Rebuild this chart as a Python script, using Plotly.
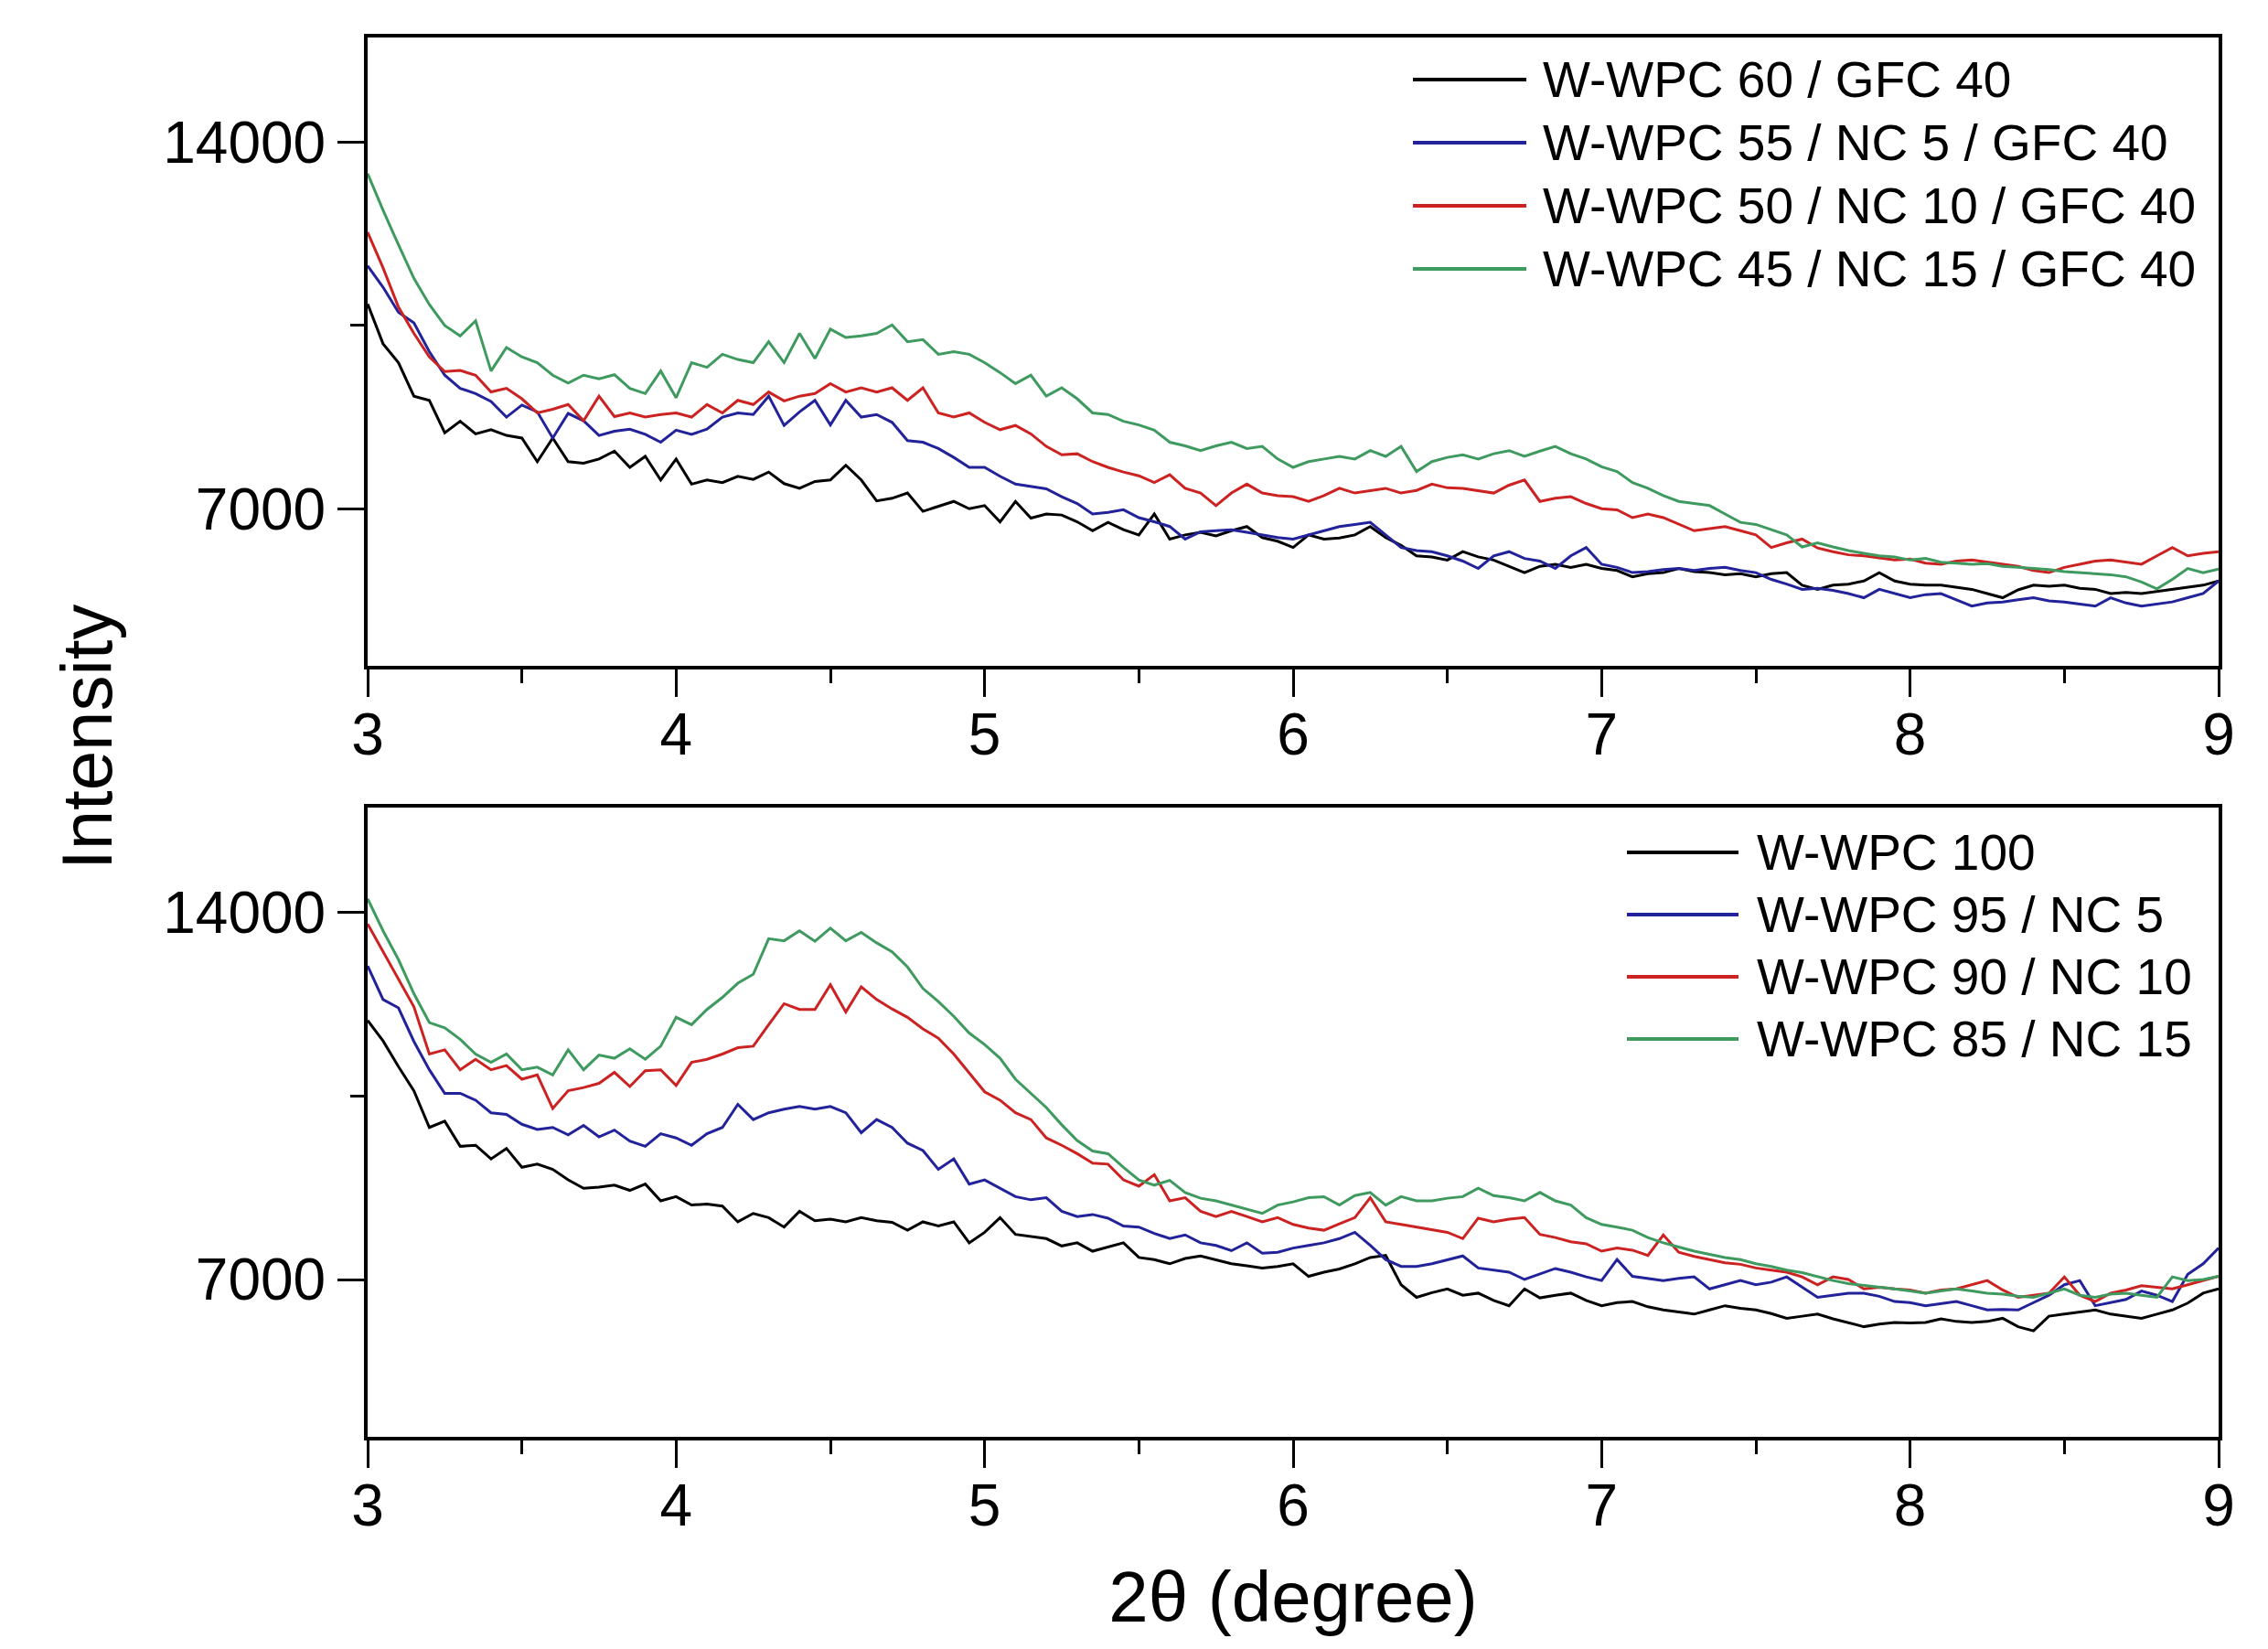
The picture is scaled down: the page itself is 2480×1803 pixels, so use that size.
import plotly.graph_objects as go
from plotly.subplots import make_subplots

# 2-theta sampling grid (degree)
two_theta = [
    3.00, 3.05, 3.10, 3.15, 3.20, 3.25, 3.30, 3.35, 3.40, 3.45, 3.50, 3.55, 3.60, 3.65, 3.70, 3.75, 3.80, 3.85, 3.90, 3.95,
    4.00, 4.05, 4.10, 4.15, 4.20, 4.25, 4.30, 4.35, 4.40, 4.45, 4.50, 4.55, 4.60, 4.65, 4.70, 4.75, 4.80, 4.85, 4.90, 4.95,
    5.00, 5.05, 5.10, 5.15, 5.20, 5.25, 5.30, 5.35, 5.40, 5.45, 5.50, 5.55, 5.60, 5.65, 5.70, 5.75, 5.80, 5.85, 5.90, 5.95,
    6.00, 6.05, 6.10, 6.15, 6.20, 6.25, 6.30, 6.35, 6.40, 6.45, 6.50, 6.55, 6.60, 6.65, 6.70, 6.75, 6.80, 6.85, 6.90, 6.95,
    7.00, 7.05, 7.10, 7.15, 7.20, 7.25, 7.30, 7.35, 7.40, 7.45, 7.50, 7.55, 7.60, 7.65, 7.70, 7.75, 7.80, 7.85, 7.90, 7.95,
    8.00, 8.05, 8.10, 8.15, 8.20, 8.25, 8.30, 8.35, 8.40, 8.45, 8.50, 8.55, 8.60, 8.65, 8.70, 8.75, 8.80, 8.85, 8.90, 8.95,
    9.00,
]

# ---------------- top panel (with GFC 40) ----------------
top_names = ["W-WPC 60 / GFC 40", "W-WPC 55 / NC 5 / GFC 40",
             "W-WPC 50 / NC 10 / GFC 40", "W-WPC 45 / NC 15 / GFC 40"]

top_wwpc60 = [
    10910, 10150, 9790, 9150, 9070, 8450, 8670, 8430, 8510, 8400, 8350, 7900, 8350, 7900, 7870, 7950, 8100, 7790, 8000, 7550,
    7950, 7470, 7550, 7500, 7620, 7560, 7700, 7480, 7390, 7520, 7550, 7830, 7550, 7150, 7200, 7300, 6950, 7050, 7140, 7000,
    7060, 6750, 7140, 6820, 6900, 6880, 6750, 6580, 6740, 6600, 6500, 6900, 6420, 6500, 6550, 6480, 6580, 6660, 6450, 6380,
    6260, 6500, 6420, 6440, 6500, 6660, 6450, 6300, 6100, 6080, 6020, 6180, 6080, 6020, 5900, 5780, 5900, 5940, 5880, 5940,
    5860, 5820, 5700, 5760, 5780, 5860, 5800, 5780, 5740, 5760, 5700, 5760, 5780, 5540, 5460, 5540, 5560, 5620, 5780, 5620,
    5560, 5540, 5540, 5500, 5460, 5380, 5300, 5450, 5540, 5520, 5540, 5480, 5460, 5380, 5400, 5380, 5420, 5460, 5500, 5540,
    5620,
]
top_wwpc55 = [
    11640, 11230, 10750, 10550, 10000, 9550, 9300, 9200, 9050, 8750, 8980, 8850, 8350, 8820, 8680, 8400, 8480, 8520, 8420, 8270,
    8500, 8420, 8520, 8750, 8830, 8800, 9150, 8590, 8850, 9070, 8600, 9070, 8750, 8800, 8650, 8300, 8270, 8150, 7980, 7790,
    7790, 7620, 7470, 7420, 7380, 7230, 7100, 6900, 6930, 6980, 6830, 6750, 6660, 6420, 6560, 6580, 6600, 6550, 6500, 6450,
    6420, 6500, 6580, 6660, 6700, 6740, 6500, 6260, 6200, 6180, 6100, 6000, 5860, 6100, 6180, 6050, 6000, 5860, 6100, 6260,
    5940, 5880, 5780, 5800, 5840, 5860, 5820, 5860, 5880, 5820, 5780, 5650, 5560, 5460, 5480, 5440, 5380, 5300, 5460, 5380,
    5300, 5360, 5380, 5260, 5140, 5200, 5220, 5260, 5300, 5240, 5220, 5180, 5140, 5300, 5200, 5140, 5180, 5220, 5300, 5380,
    5620,
]
top_wwpc50 = [
    12280, 11600, 10850, 10350, 9900, 9620, 9640, 9550, 9230, 9300, 9100, 8830, 8900, 8990, 8680, 9150, 8760, 8830, 8750, 8800,
    8830, 8750, 8990, 8830, 9070, 8990, 9230, 9060, 9150, 9200, 9390, 9230, 9310, 9230, 9310, 9070, 9310, 8830, 8750, 8830,
    8650, 8510, 8590, 8430, 8190, 8030, 8050, 7900, 7790, 7700, 7630, 7500, 7650, 7390, 7300, 7060, 7300, 7470, 7300, 7250,
    7230, 7140, 7250, 7390, 7300, 7350, 7390, 7300, 7350, 7470, 7400, 7390, 7350, 7300, 7450, 7550, 7140, 7200, 7230, 7100,
    7000, 6980, 6830, 6900, 6830, 6700, 6580, 6620, 6660, 6580, 6500, 6260, 6350, 6420, 6250, 6180, 6120, 6100, 6060, 6020,
    6040, 5960, 5940, 6000, 6020, 5980, 5940, 5900, 5820, 5780, 5880, 5940, 6000, 6020, 5980, 5940, 6100, 6260, 6100, 6150,
    6180,
]
top_wwpc45 = [
    13400, 12700, 12040, 11400, 10900, 10500, 10300, 10590, 9630, 10080, 9900, 9790, 9550, 9400, 9550, 9480, 9560, 9300, 9200, 9630,
    9120, 9790, 9700, 9950, 9850, 9790, 10190, 9790, 10350, 9870, 10430, 10270, 10300, 10350, 10510, 10190, 10230, 9950, 10000, 9950,
    9790, 9600, 9390, 9550, 9150, 9310, 9100, 8830, 8800, 8670, 8600, 8500, 8270, 8200, 8110, 8200, 8270, 8150, 8190, 7950,
    7790, 7900, 7950, 8000, 7950, 8110, 8000, 8190, 7710, 7900, 7980, 8030, 7950, 8050, 8110, 8000, 8100, 8190, 8050, 7950,
    7800, 7710, 7500, 7390, 7250, 7140, 7100, 7060, 6900, 6740, 6700, 6600, 6500, 6270, 6350, 6270, 6200, 6150, 6100, 6080,
    6020, 6050, 5980, 5960, 5940, 5950, 5900, 5880, 5860, 5840, 5800, 5780, 5760, 5740, 5700, 5600, 5470, 5650, 5860, 5780,
    5850,
]

# ---------------- bottom panel (without GFC) ----------------
bottom_names = ["W-WPC 100", "W-WPC 95 / NC 5", "W-WPC 90 / NC 10", "W-WPC 85 / NC 15"]

bot_wwpc100 = [
    11940, 11550, 11060, 10600, 9900, 10020, 9540, 9560, 9300, 9500, 9140, 9200, 9100, 8900, 8740, 8760, 8800, 8700, 8820, 8500,
    8580, 8420, 8440, 8400, 8100, 8260, 8180, 8000, 8300, 8120, 8150, 8100, 8180, 8120, 8090, 7940, 8100, 8020, 8100, 7700,
    7900, 8180, 7860, 7820, 7780, 7640, 7700, 7540, 7620, 7700, 7420, 7380, 7300, 7400, 7450, 7380, 7300, 7260, 7220, 7250,
    7300, 7060, 7140, 7200, 7300, 7420, 7460, 6900, 6660, 6750, 6820, 6700, 6740, 6600, 6500, 6820, 6650, 6700, 6740, 6600,
    6500, 6560, 6580, 6480, 6420, 6380, 6340, 6420, 6500, 6450, 6420, 6350, 6260, 6300, 6340, 6250, 6180, 6100, 6150, 6180,
    6170, 6180, 6250, 6200, 6180, 6200, 6260, 6100, 6020, 6300, 6340, 6380, 6420, 6340, 6300, 6260, 6340, 6420, 6550, 6740,
    6820,
]
bot_wwpc95 = [
    12980, 12340, 12180, 11540, 11000, 10550, 10550, 10420, 10180, 10150, 9960, 9860, 9900, 9760, 9940, 9720, 9850, 9640, 9540, 9780,
    9700, 9560, 9780, 9900, 10340, 10050, 10180, 10250, 10300, 10250, 10300, 10180, 9800, 10050, 9900, 9600, 9460, 9100, 9300, 8820,
    8900, 8740, 8580, 8520, 8560, 8300, 8200, 8240, 8170, 8020, 8000, 7880, 7780, 7850, 7700, 7650, 7550, 7700, 7500, 7520,
    7600, 7650, 7700, 7780, 7900, 7650, 7380, 7250, 7250, 7300, 7380, 7450, 7220, 7180, 7140, 7000, 7100, 7210, 7140, 7050,
    6980, 7380, 7060, 7020, 6980, 7020, 7050, 6820, 6900, 6980, 6900, 6950, 7050, 6850, 6660, 6700, 6740, 6740, 6680, 6580,
    6560, 6500, 6540, 6580, 6500, 6420, 6430, 6420, 6560, 6700, 6900, 6980, 6500, 6560, 6620, 6780, 6700, 6580, 7100, 7300,
    7600,
]
bot_wwpc90 = [
    13780, 13250, 12740, 12200, 11300, 11380, 11000, 11200, 11000, 11080, 10820, 10900, 10260, 10600, 10660, 10740, 10950, 10680, 10980, 11000,
    10700, 11140, 11200, 11300, 11420, 11450, 11860, 12260, 12150, 12150, 12620, 12100, 12580, 12340, 12160, 12000, 11780, 11600, 11300, 10950,
    10580, 10420, 10180, 10050, 9700, 9560, 9400, 9220, 9200, 8900, 8780, 9000, 8500, 8560, 8300, 8200, 8300, 8200, 8100, 8180,
    8050, 7980, 7940, 8060, 8180, 8560, 8100, 8050, 8000, 7950, 7900, 7780, 8170, 8100, 8150, 8180, 7860, 7800, 7720, 7680,
    7540, 7600, 7560, 7460, 7850, 7520, 7440, 7380, 7320, 7290, 7220, 7180, 7140, 7050, 6900, 7050, 7000, 6820, 6850, 6820,
    6800, 6740, 6800, 6820, 6900, 6980, 6800, 6660, 6700, 6740, 7050, 6700, 6580, 6740, 6800, 6880, 6850, 6820, 6900, 6980,
    7060,
]
bot_wwpc85 = [
    14260, 13650, 13100, 12450, 11900, 11800, 11580, 11300, 11140, 11300, 11000, 11050, 10900, 11380, 11000, 11280, 11220, 11400, 11200, 11450,
    12000, 11860, 12150, 12380, 12650, 12820, 13500, 13460, 13650, 13450, 13700, 13460, 13620, 13420, 13250, 12960, 12550, 12300, 12020, 11700,
    11480, 11220, 10820, 10550, 10280, 9950, 9650, 9450, 9400, 9140, 8900, 8800, 8890, 8660, 8550, 8500, 8420, 8350, 8260, 8420,
    8480, 8560, 8580, 8420, 8600, 8660, 8420, 8580, 8500, 8500, 8550, 8580, 8740, 8600, 8560, 8500, 8660, 8500, 8420, 8180,
    8050, 8000, 7940, 7800, 7700, 7620, 7540, 7480, 7420, 7380, 7300, 7250, 7180, 7130, 7050, 6980, 6920, 6890, 6850, 6820,
    6780, 6740, 6780, 6820, 6780, 6740, 6720, 6680, 6660, 6740, 6820, 6700, 6660, 6720, 6740, 6700, 6660, 7050, 6980, 7000,
    7060,
]

colors = ["#000000", "#22229a", "#cc2222", "#3f9a5f"]
top_series = [top_wwpc60, top_wwpc55, top_wwpc50, top_wwpc45]
bottom_series = [bot_wwpc100, bot_wwpc95, bot_wwpc90, bot_wwpc85]

FONT = "Liberation Sans, Arial, Helvetica, sans-serif"
W, H = 2480, 1803
ML, MR, MT, MB = 394, 62, 33, 240
PW, PH = W - ML - MR, H - MT - MB


def px_to_paper(px, py):
    return (px - ML) / PW, (H - MB - py) / PH


fig = make_subplots(rows=2, cols=1, shared_xaxes=False, vertical_spacing=0.1)

for name, ys, c in zip(top_names, top_series, colors):
    fig.add_trace(go.Scatter(x=two_theta, y=ys, name=name, mode="lines",
                             line=dict(color=c, width=3), showlegend=False),
                  row=1, col=1)
for name, ys, c in zip(bottom_names, bottom_series, colors):
    fig.add_trace(go.Scatter(x=two_theta, y=ys, name=name, mode="lines",
                             line=dict(color=c, width=3), showlegend=False),
                  row=2, col=1)

xaxis_style = dict(range=[3, 9], tickvals=[3, 4, 5, 6, 7, 8, 9], ticks="outside",
                   ticklen=30, tickwidth=2.5, tickcolor="black",
                   ticklabelstandoff=-14,
                   minor=dict(dtick=0.5, tick0=3, ticks="outside", ticklen=15,
                              tickwidth=2.5, tickcolor="black"),
                   showline=True, linecolor="black", linewidth=4, mirror=True,
                   showgrid=False, zeroline=False,
                   tickfont=dict(family=FONT, size=64, color="black"))
yaxis_style = dict(range=[4000, 16000], tickvals=[7000, 14000], tickformat="d",
                   ticks="outside", ticklen=29, tickwidth=2.5, tickcolor="black",
                   minor=dict(dtick=3500, tick0=0, ticks="outside", ticklen=15,
                              tickwidth=2.5, tickcolor="black"),
                   showline=True, linecolor="black", linewidth=4, mirror=True,
                   showgrid=False, zeroline=False,
                   tickfont=dict(family=FONT, size=64, color="black"))

fig.update_xaxes(**xaxis_style)
fig.update_yaxes(**yaxis_style)
fig.update_yaxes(domain=[(H - MB - 720) / PH, 1.0], row=1, col=1)
fig.update_yaxes(domain=[0.0, (H - MB - 875) / PH], row=2, col=1)
fig.update_xaxes(title=dict(text="2θ (degree)", font=dict(family=FONT, size=78, color="black"),
                            standoff=39), row=2, col=1)

# legend keys (line sample + label) placed inside each panel's upper right
shapes, annotations = [], []
legend_blocks = [
    # names, key line start px, key line end px, text start px, first row px, row step px
    (top_names, 1537, 1661, 1677, 79, 69),
    (bottom_names, 1771, 1893, 1911, 924, 68),
]
for names, lx0, lx1, tx, ry0, rstep in legend_blocks:
    for i, (name, c) in enumerate(zip(names, colors)):
        yy = ry0 + i * rstep
        x0p, yp = px_to_paper(lx0, yy)
        x1p, _ = px_to_paper(lx1, yy)
        txp, _ = px_to_paper(tx, yy)
        shapes.append(dict(type="line", xref="paper", yref="paper",
                           x0=x0p, x1=x1p, y0=yp, y1=yp,
                           line=dict(color=c, width=4)))
        annotations.append(dict(text=name, xref="paper", yref="paper",
                                x=txp, y=yp, xanchor="left", yanchor="middle",
                                showarrow=False,
                                font=dict(family=FONT, size=55, color="black")))

ix, iy = px_to_paper(87, 798)
annotations.append(dict(text="Intensity", xref="paper", yref="paper",
                        x=ix, y=iy, xanchor="center", yanchor="middle",
                        textangle=-90, showarrow=False,
                        font=dict(family=FONT, size=78, color="black")))

fig.update_layout(
    width=W, height=H,
    margin=dict(l=ML, r=MR, t=MT, b=MB),
    paper_bgcolor="white", plot_bgcolor="white",
    font=dict(family=FONT, color="black"),
    showlegend=False,
    shapes=shapes,
    annotations=annotations,
)

fig.write_html("out.html")
